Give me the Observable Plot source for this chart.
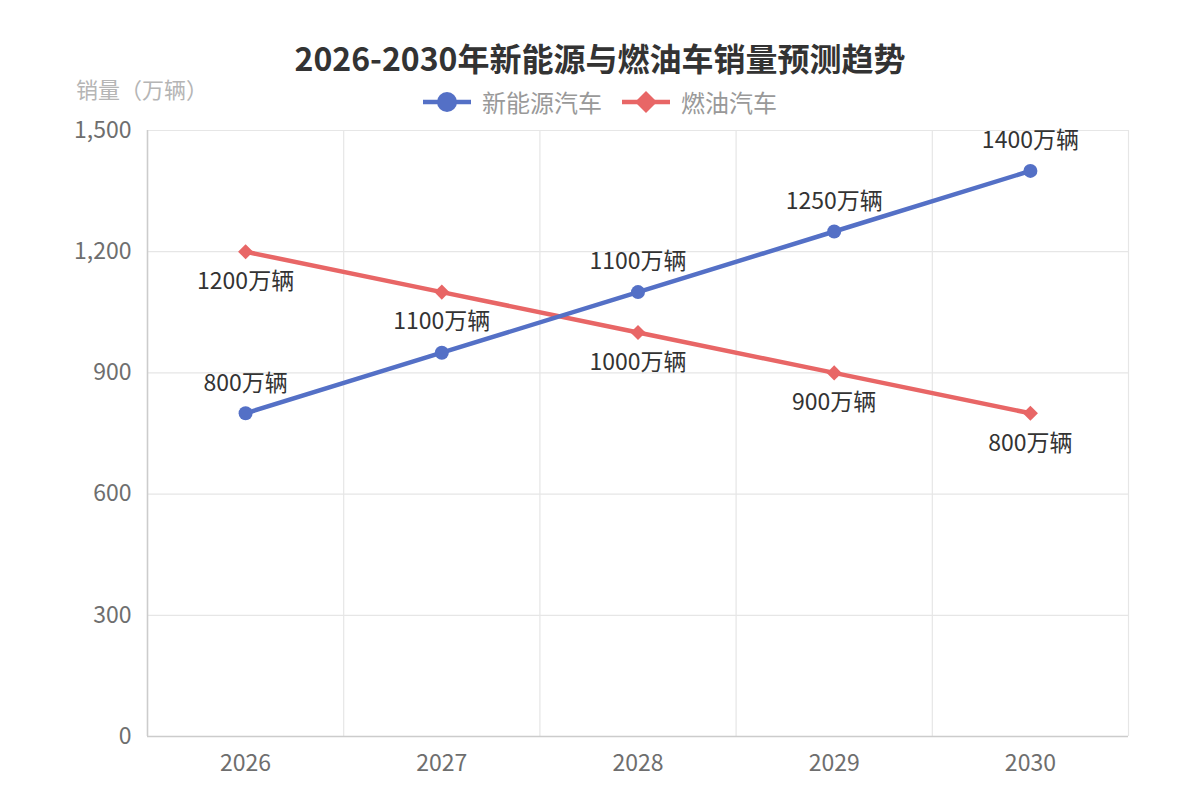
<!DOCTYPE html>
<html>
<head>
<meta charset="utf-8">
<script src="https://cdn.jsdelivr.net/npm/d3@7"></script>
<script src="https://cdn.jsdelivr.net/npm/@observablehq/plot@0.6"></script>
<style>
  html, body { margin: 0; padding: 0; background: #fff; }
  body { font-family: "Noto Sans CJK SC", "Noto Sans", sans-serif; }
  #wrap { position: relative; width: 1200px; height: 800px; }
  #title { position: absolute; left: 0; width: 1200px; top: 36px; text-align: center; font-size: 32px; font-weight: bold; color: #333; line-height: 42px; }
  #yname { position: absolute; left: 76px; top: 73px; font-size: 22px; color: #b5b5b5; line-height: 30px; }
  #legend { position: absolute; left: 0; width: 1200px; top: 88px; display: flex; justify-content: center; align-items: center; font-size: 24px; color: #999; line-height: 28px; }
  .item { display: flex; align-items: center; margin: 0 10px; }
  .item svg { margin-right: 11px; }
  #chart { position: absolute; left: 0; top: 0; }
</style>
</head>
<body>
<div id="wrap">
  <div id="chart"></div>
  <div id="title"></div>
  <div id="yname"></div>
  <div id="legend"></div>
</div>
<script>
const titleText = "2026-2030年新能源与燃油车销量预测趋势";
const yAxisName = "销量（万辆）";
const years = [2026, 2027, 2028, 2029, 2030];
const seriesNames = ["新能源汽车", "燃油汽车"];
const nevValues = [800, 950, 1100, 1250, 1400];
const fuelValues = [1200, 1100, 1000, 900, 800];
const yTicks = [0, 300, 600, 900, 1200, 1500];
const unit = "万辆";
const colors = ["#5470c6", "#e86666"];
// label for 2027 new-energy is hidden by overlap in the original
const nevLabelHidden = [2027];

const nev = years.map((x, i) => ({x, v: nevValues[i]}));
const fuel = years.map((x, i) => ({x, v: fuelValues[i]}));
const bounds = years.map(y => y - 0.5).concat([years[years.length - 1] + 0.5]);

document.getElementById("title").textContent = titleText;
document.getElementById("yname").textContent = yAxisName;

const legend = document.getElementById("legend");
seriesNames.forEach((name, i) => {
  const item = document.createElement("div");
  item.className = "item";
  const icon = i === 0
    ? `<circle cx="24" cy="12" r="10" fill="${colors[0]}"/>`
    : `<path d="M24 1 L35 12 L24 23 L13 12 Z" fill="${colors[1]}"/>`;
  item.innerHTML = `<svg width="48" height="24"><line x1="0" x2="48" y1="12" y2="12" stroke="${colors[i]}" stroke-width="4.5"/>${icon}</svg><span>${name}</span>`;
  legend.appendChild(item);
});

const fontFamily = '"Noto Sans CJK SC", "Noto Sans", sans-serif';
const plot = Plot.plot({
  width: 1200,
  height: 800,
  marginLeft: 147,
  marginRight: 72,
  marginTop: 130,
  marginBottom: 64,
  style: {fontFamily, background: "transparent", overflow: "visible"},
  x: {type: "linear", domain: [bounds[0], bounds[bounds.length - 1]]},
  y: {domain: [0, 1500]},
  marks: [
    Plot.gridY(yTicks, {stroke: "#e6e6e6", strokeOpacity: 1, strokeWidth: 1.2}),
    Plot.gridX(bounds, {stroke: "#e6e6e6", strokeOpacity: 1, strokeWidth: 1.2}),
    Plot.ruleY([0], {stroke: "#cccccc", strokeWidth: 1.5}),
    Plot.ruleX([bounds[0]], {stroke: "#cccccc", strokeWidth: 1.5}),
    Plot.axisY(yTicks, {tickSize: 0, tickPadding: 16, fontSize: 23, fill: "#6e6e6e", tickFormat: d3.format(","), label: null}),
    Plot.axisX(years, {tickSize: 0, tickPadding: 18, fontSize: 23, fill: "#6e6e6e", tickFormat: d => String(d), label: null}),
    Plot.line(fuel, {x: "x", y: "v", stroke: colors[1], strokeWidth: 4.5}),
    Plot.line(nev, {x: "x", y: "v", stroke: colors[0], strokeWidth: 4.5}),
    Plot.dot(fuel, {x: "x", y: "v", symbol: "diamond2", r: 6.8, fill: colors[1], stroke: null}),
    Plot.dot(nev, {x: "x", y: "v", r: 7, fill: colors[0], stroke: null}),
    Plot.text(nev.filter(d => !nevLabelHidden.includes(d.x)), {x: "x", y: "v", text: d => d.v + unit, dy: -30, fontSize: 23, fill: "#333"}),
    Plot.text(fuel, {x: "x", y: "v", text: d => d.v + unit, dy: 30, fontSize: 23, fill: "#333"})
  ]
});
document.getElementById("chart").appendChild(plot);
</script>
</body>
</html>
